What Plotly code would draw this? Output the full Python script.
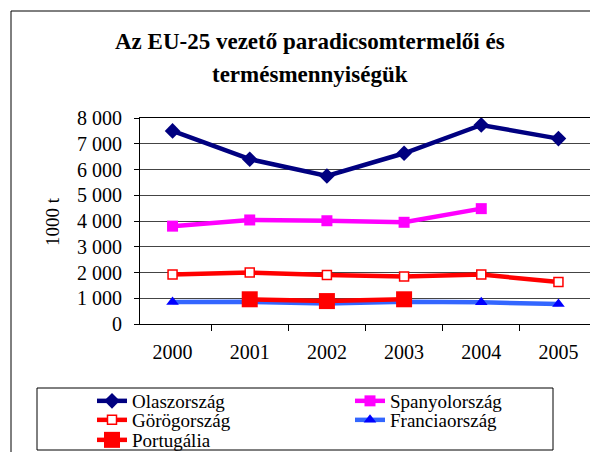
import plotly.graph_objects as go

years = ["2000", "2001", "2002", "2003", "2004", "2005"]
olasz = [7500, 6400, 5750, 6630, 7730, 7200]
spanyol = [3800, 4040, 4010, 3950, 4480, None]
gorog = [1920, 2000, 1900, 1840, 1920, 1630]
francia = [850, 860, 800, 860, 840, 780]
portugal = [None, 960, 890, 960, None, None]

title_line1 = "Az EU-25 vezető paradicsomtermelői és"
title_line2 = "termésmennyiségük"
ytitle = "1000 t"
yticks = [0, 1000, 2000, 3000, 4000, 5000, 6000, 7000, 8000]
yticklabels = ["0", "1 000", "2 000", "3 000", "4 000", "5 000", "6 000", "7 000", "8 000"]

# page body has an 8px margin: work in figure pixels = reference pixels - 8
OFF = 8
W, H = 598, 452
L, T = 140 - OFF, 118 - OFF
pw, ph = 451, 206
R, B = W - L - pw, H - T - ph

def px_x(p):
    return (p - OFF - L) / pw

def px_y(p):
    return 1 - (p - OFF - T) / ph

serif = "Liberation Serif, Times New Roman, DejaVu Serif, serif"

fig = go.Figure()
fig.add_trace(go.Scatter(x=years, y=olasz, name="Olaszország", mode="lines+markers",
                         line=dict(color="#000080", width=4.5),
                         marker=dict(symbol="diamond", size=12, color="#000080"),
                         legend="legend"))
fig.add_trace(go.Scatter(x=years, y=spanyol, name="Spanyolország", mode="lines+markers",
                         line=dict(color="#FF00FF", width=4.5),
                         marker=dict(symbol="square", size=11, color="#FF00FF"),
                         legend="legend"))
fig.add_trace(go.Scatter(x=years, y=gorog, name="Görögország", mode="lines+markers",
                         line=dict(color="#FF0000", width=4.5),
                         marker=dict(symbol="square", size=9, color="white",
                                     line=dict(color="#FF0000", width=1.5)),
                         legend="legend2"))
fig.add_trace(go.Scatter(x=years, y=francia, name="Franciaország", mode="lines+markers",
                         line=dict(color="#3366FF", width=4.5),
                         marker=dict(symbol="triangle-up", size=11, color="#0000FF"),
                         legend="legend2"))
fig.add_trace(go.Scatter(x=years, y=portugal, name="Portugália", mode="lines+markers",
                         line=dict(color="#FF0000", width=4.5),
                         marker=dict(symbol="square", size=16, color="#FF0000"),
                         legend="legend3"))

def leg(yc):
    return dict(orientation="h", x=px_x(92), xanchor="left", y=px_y(yc), yanchor="middle",
                entrywidth=213, entrywidthmode="pixels",
                borderwidth=0, bgcolor="rgba(0,0,0,0)",
                font=dict(family=serif, size=19, color="black"),
                itemwidth=30, tracegroupgap=0)

fig.update_layout(
    width=W, height=H,
    margin=dict(l=L, r=R, t=T, b=B, autoexpand=False),
    paper_bgcolor="white", plot_bgcolor="white",
    font=dict(family=serif, size=17, color="black"),
    showlegend=True,
    legend=leg(401),
    legend2=leg(420),
    legend3=leg(440),
    xaxis=dict(type="category", showline=True, linecolor="black", linewidth=1, mirror=True,
               ticks="outside", tickson="boundaries", ticklen=6, tickcolor="black",
               showgrid=False, ticklabelstandoff=10,
               tickfont=dict(family=serif, size=20)),
    yaxis=dict(range=[0, 8000], tickvals=yticks, ticktext=yticklabels,
               showline=True, linecolor="black", linewidth=1, mirror=True,
               ticks="outside", ticklen=5, tickcolor="black",
               showgrid=True, gridcolor="#444444", gridwidth=1, zeroline=False,
               ticklabelstandoff=8, tickfont=dict(family=serif, size=20)),
    annotations=[
        dict(text="<b>" + title_line1 + "</b>", xref="paper", yref="paper", x=px_x(310), y=px_y(42),
             xanchor="center", yanchor="middle", showarrow=False,
             font=dict(family=serif, size=23, color="black")),
        dict(text="<b>" + title_line2 + "</b>", xref="paper", yref="paper", x=px_x(310), y=px_y(74),
             xanchor="center", yanchor="middle", showarrow=False,
             font=dict(family=serif, size=23, color="black")),
        dict(text=ytitle, xref="paper", yref="paper", x=px_x(52), y=px_y(222), textangle=-90,
             xanchor="center", yanchor="middle", showarrow=False,
             font=dict(family=serif, size=19, color="black")),
    ],
    shapes=[
        dict(type="rect", xref="paper", yref="paper", x0=px_x(11), y0=px_y(480),
             x1=px_x(630), y1=px_y(11), line=dict(color="black", width=1), layer="above"),
        dict(type="rect", xref="paper", yref="paper", x0=px_x(37), y0=px_y(450),
             x1=px_x(553), y1=px_y(388), line=dict(color="black", width=1), layer="above"),
    ],
)

fig.write_html("out.html")
